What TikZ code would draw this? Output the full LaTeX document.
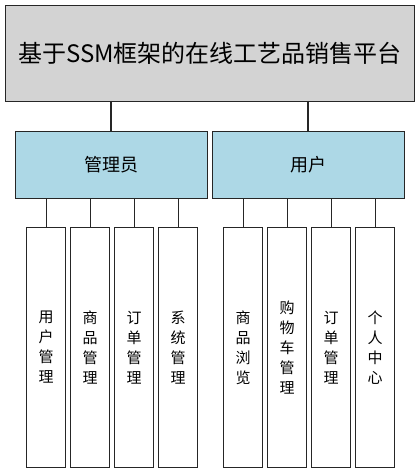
\documentclass[tikz,border=0pt]{standalone}
\usepackage{fontspec}
\newfontfamily\cjk{Noto Sans CJK SC}
\definecolor{topgray}{HTML}{D3D3D3}
\definecolor{midblue}{HTML}{ADD8E6}
\definecolor{edge}{HTML}{262626}
\begin{document}
\begin{tikzpicture}[x=1pt,y=-1pt,
  box/.style={draw=edge,line width=1.1pt,inner sep=0pt,anchor=north west},
  titlebox/.style={box,fill=topgray,font=\cjk\fontsize{24}{28}\selectfont},
  rolebox/.style={box,fill=midblue,font=\cjk\fontsize{18}{21}\selectfont},
  leafbox/.style={box,fill=white,align=center,font=\cjk\fontsize{15}{20}\selectfont},
  link/.style={draw=edge,line width=1.1pt}]
\useasboundingbox (0,0) rectangle (419,473);
\node[titlebox,minimum width=409pt,minimum height=96pt] (top) at (5,5) {基于SSM框架的在线工艺品销售平台};
\node[rolebox,minimum width=192pt,minimum height=67pt] (admin) at (15,131) {管理员};
\node[rolebox,minimum width=192pt,minimum height=67pt] (user) at (212,131) {用户};
\foreach \n/\x/\t in {a1/26/{用\\户\\管\\理}, a2/70/{商\\品\\管\\理}, a3/114/{订\\单\\管\\理}, a4/158/{系\\统\\管\\理},
  u1/223/{商\\品\\浏\\览}, u2/267/{购\\物\\车\\管\\理}, u3/311/{订\\单\\管\\理}, u4/355/{个\\人\\中\\心}}
  \node[leafbox,minimum width=39pt,minimum height=240pt] (\n) at (\x,227) {\t};
\coordinate (tA) at (111,101);
\coordinate (tU) at (308,101);
\draw[link] (tA) -- (tA |- admin.north);
\draw[link] (tU) -- (tU |- user.north);
\foreach \n in {a1,a2,a3,a4} \draw[link] (\n.north) -- (\n.north |- admin.south);
\foreach \n in {u1,u2,u3,u4} \draw[link] (\n.north) -- (\n.north |- user.south);
\end{tikzpicture}
\end{document}
